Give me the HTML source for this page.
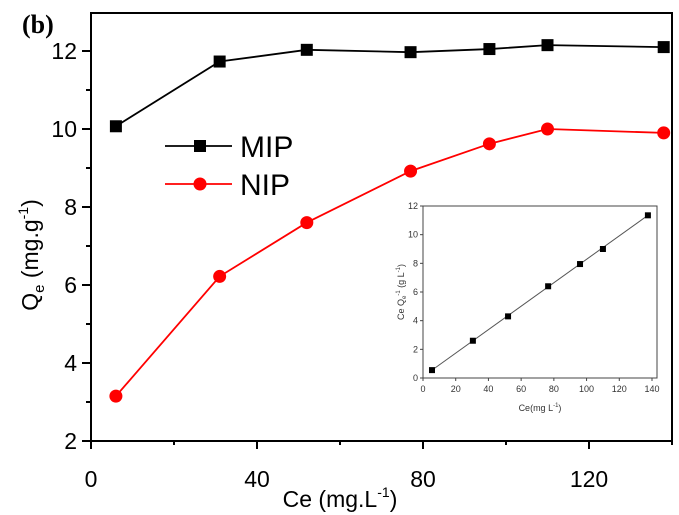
<!DOCTYPE html>
<html><head><meta charset="utf-8"><style>
body{margin:0;background:#fff;}
svg{display:block;font-family:"Liberation Sans",Arial,sans-serif;}
</style></head><body>
<svg id="chart" width="679" height="515" viewBox="0 0 679 515">
<text x="22" y="33" font-family="Liberation Serif,serif" font-weight="bold" font-size="26">(b)</text>
<g id="main"></g>
<g id="inset"></g>
</svg>
<script>
const ce = [6, 31, 52, 77, 96, 110, 138];
const mipQe = [10.07, 11.73, 12.03, 11.97, 12.05, 12.15, 12.1];
const nipQe = [3.15, 6.22, 7.6, 8.92, 9.62, 10.0, 9.9];
const xTicks = [0, 40, 80, 120];
const yTicks = [2, 4, 6, 8, 10, 12];
const insetCe = [5.5, 30.5, 52, 76.5, 96, 110, 137.5];
const insetRatio = [0.55, 2.6, 4.3, 6.4, 7.95, 9.0, 11.35];
const insetXTicks = [0, 20, 40, 60, 80, 100, 120, 140];
const insetYTicks = [0, 2, 4, 6, 8, 10, 12];

const NS = "http://www.w3.org/2000/svg";
function mk(parent, tag, attrs, text){
  const e = document.createElementNS(NS, tag);
  for (const k in attrs) e.setAttribute(k, attrs[k]);
  if (text !== undefined) e.textContent = text;
  parent.appendChild(e);
  return e;
}
// main axes
const L=91, R=672, T=13, B=441;
const X = v => L + v*(589-91)/120;
const Y = v => 51 + (12 - v)*39;
const g = document.getElementById('main');
let e;
e = mk(g,'rect',{x:L,y:T,width:R-L,height:B-T,fill:'none',stroke:'#000','stroke-width':2});


xTicks.forEach(v=>{
  mk(g,'line',{x1:X(v),x2:X(v),y1:B,y2:B+8,stroke:'#000','stroke-width':2});
  e = mk(g,'text',{x:X(v),y:B+46,'text-anchor':'middle','font-size':23},v);
  
  
});
[20,60,100,140].forEach(v=>mk(g,'line',{x1:X(v),x2:X(v),y1:B,y2:B+4,stroke:'#000','stroke-width':2}));
yTicks.forEach(v=>{
  mk(g,'line',{x1:L-9,x2:L,y1:Y(v),y2:Y(v),stroke:'#000','stroke-width':2});
  e = mk(g,'text',{x:L-14,y:Y(v)+8,'text-anchor':'end','font-size':23},v);
  
  
});
[3,5,7,9,11].forEach(v=>mk(g,'line',{x1:L-5,x2:L,y1:Y(v),y2:Y(v),stroke:'#000','stroke-width':2}));
e = mk(g,'text',{x:340,y:507,'text-anchor':'middle','font-size':23});
e.innerHTML='Ce (mg.L<tspan font-size="14" dy="-10">-1</tspan><tspan dy="10">)</tspan>';


e = mk(g,'text',{transform:'translate(38,255) rotate(-90)','text-anchor':'middle','font-size':23});
e.innerHTML='Q<tspan font-size="15" dy="6">e</tspan><tspan dy="-6"> (mg.g</tspan><tspan font-size="14" dy="-10">-1</tspan><tspan dy="10">)</tspan>';


// series
e = mk(g,'polyline',{points:ce.map((c,i)=>X(c)+','+Y(mipQe[i])).join(' '),fill:'none',stroke:'#000','stroke-width':1.8});


ce.forEach((c,i)=>{
  e = mk(g,'rect',{x:X(c)-6,y:Y(mipQe[i])-6,width:12,height:12,fill:'#000'});
  
  
});
e = mk(g,'polyline',{points:ce.map((c,i)=>X(c)+','+Y(nipQe[i])).join(' '),fill:'none',stroke:'#f00','stroke-width':1.8});


ce.forEach((c,i)=>{
  e = mk(g,'circle',{cx:X(c),cy:Y(nipQe[i]),r:6.5,fill:'#f00'});
  
  
});
// legend
const lg = mk(g,'g',{});


mk(lg,'line',{x1:165,x2:232,y1:146,y2:146,stroke:'#000','stroke-width':1.8});
mk(lg,'rect',{x:194,y:140,width:12,height:12,fill:'#000'});
e = mk(lg,'text',{x:240,y:157,'font-size':30},'MIP');


mk(lg,'line',{x1:165,x2:232,y1:184,y2:184,stroke:'#f00','stroke-width':1.8});
mk(lg,'circle',{cx:200,cy:184,r:6.5,fill:'#f00'});
e = mk(lg,'text',{x:240,y:195,'font-size':30},'NIP');


// inset
const ig = document.getElementById('inset');
const iL=423, iR=657, iT=206, iB=378;
const IX = v => iL + v*(652-423)/140;
const IY = v => iB - v*(iB-iT)/12;
e = mk(ig,'rect',{x:iL,y:iT,width:iR-iL,height:iB-iT,fill:'#fff',stroke:'#444','stroke-width':1});


insetXTicks.forEach(v=>{
  mk(ig,'line',{x1:IX(v),x2:IX(v),y1:iB,y2:iB+3,stroke:'#444'});
  e = mk(ig,'text',{x:IX(v),y:iB+14,'text-anchor':'middle','font-size':9,fill:'#333'},v);
  
  
});
insetYTicks.forEach(v=>{
  mk(ig,'line',{x1:iL-3,x2:iL,y1:IY(v),y2:IY(v),stroke:'#444'});
  e = mk(ig,'text',{x:iL-5,y:IY(v)+3,'text-anchor':'end','font-size':9,fill:'#333'},v);
  
  
});
e = mk(ig,'text',{x:540,y:411,'text-anchor':'middle','font-size':9,fill:'#333'});
e.innerHTML='Ce(mg L<tspan font-size="6" dy="-4">-1</tspan><tspan dy="4">)</tspan>';


e = mk(ig,'text',{transform:'translate(404,292) rotate(-90)','text-anchor':'middle','font-size':9,fill:'#333'});
e.innerHTML='Ce Q<tspan font-size="6" dy="2">e</tspan><tspan font-size="6" dy="-6">-1</tspan><tspan dy="4"> (g L</tspan><tspan font-size="6" dy="-4">-1</tspan><tspan dy="4">)</tspan>';


e = mk(ig,'line',{x1:IX(insetCe[0]),y1:IY(insetRatio[0]),x2:IX(insetCe[6]),y2:IY(insetRatio[6]),stroke:'#555','stroke-width':1});


insetCe.forEach((c,i)=>{
  e = mk(ig,'rect',{x:IX(c)-3,y:IY(insetRatio[i])-3,width:6,height:6,fill:'#000'});
  
  
});
</script>
</body></html>
